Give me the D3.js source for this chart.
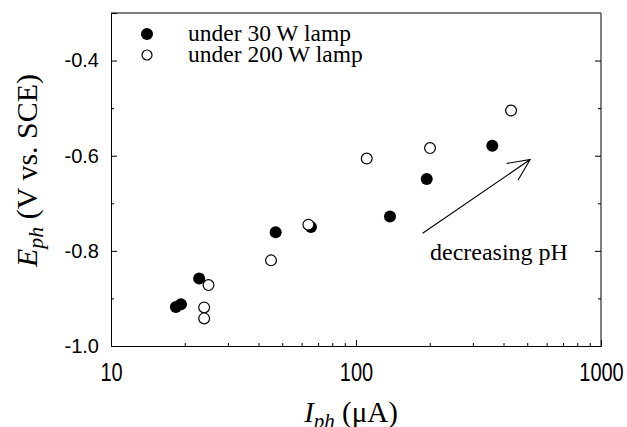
<!DOCTYPE html>
<html>
<head>
<meta charset="utf-8">
<script src="https://cdn.jsdelivr.net/npm/d3@7"></script>
<style>
  body { margin: 0; background: #fff; }
  svg { display: block; }
  .tick text { font-family: "Liberation Sans", Arial, sans-serif; fill: #000; }
  .serif { font-family: "Liberation Serif", "Times New Roman", serif; fill: #000; }
</style>
</head>
<body>
<div id="chart"></div>
<script>
// photocurrent (uA) vs photopotential (V vs. SCE)
const lamp30I = [18.4, 19.3, 22.9, 47.0, 65.5, 137.6, 194.4, 360];
const lamp30E = [-0.918, -0.912, -0.858, -0.761, -0.750, -0.728, -0.649, -0.579];
const lamp200I = [25.0, 24.0, 24.0, 45.0, 63.9, 110.6, 200.5, 429.5];
const lamp200E = [-0.872, -0.919, -0.942, -0.820, -0.745, -0.606, -0.584, -0.505];

const seriesNames = ['under 30 W lamp', 'under 200 W lamp'];
const yMajor = [-1.0, -0.8, -0.6, -0.4];
const yMinor = [-0.9, -0.7, -0.5];
const xMajor = [10, 100, 1000];
const xMinor = [20, 30, 40, 50, 60, 70, 80, 90, 200, 300, 400, 500, 600, 700, 800, 900];

// arrow "decreasing pH", in data units
const arrowFrom = [187, -0.763];
const arrowTo = [514, -0.608];

const W = 627, H = 427;
const margin = { top: 13, right: 26, bottom: 81, left: 111 };

const svg = d3.select('#chart').append('svg')
    .attr('width', W)
    .attr('height', H);

const x = d3.scaleLog().domain([10, 1000]).range([margin.left, W - margin.right]);
const y = d3.scaleLinear().domain([-1.0, -0.3]).range([H - margin.bottom, margin.top]);

// frame
svg.append('line')
    .attr('x1', x(10)).attr('x2', x(1000)).attr('y1', y(-0.3)).attr('y2', y(-0.3))
    .attr('stroke', '#555').attr('stroke-width', 1.5);
svg.append('line')
    .attr('x1', x(1000)).attr('x2', x(1000)).attr('y1', y(-0.3)).attr('y2', y(-1.0))
    .attr('stroke', '#555').attr('stroke-width', 1.5);

// left axis
svg.append('g')
    .attr('transform', `translate(${margin.left},0)`)
    .call(d3.axisLeft(y).tickValues(yMajor).tickSize(-6).tickPadding(12)
        .tickFormat(d3.format('.1f')))
    .call(g => g.select('.domain').attr('stroke', '#000'))
    .call(g => g.selectAll('text').style('font-size', '20px').text(d => d3.format('.1f')(d).replace('−', '-')));
svg.append('g')
    .attr('transform', `translate(${margin.left},0)`)
    .call(d3.axisLeft(y).tickValues(yMinor).tickSize(-3).tickFormat(''))
    .call(g => g.select('.domain').remove());

// right axis ticks
svg.append('g')
    .attr('transform', `translate(${W - margin.right},0)`)
    .call(d3.axisRight(y).tickValues(yMajor).tickSize(-6).tickFormat(''))
    .call(g => g.select('.domain').remove());
svg.append('g')
    .attr('transform', `translate(${W - margin.right},0)`)
    .call(d3.axisRight(y).tickValues(yMinor).tickSize(-3).tickFormat(''))
    .call(g => g.select('.domain').remove());

// bottom axis
svg.append('g')
    .attr('transform', `translate(0,${H - margin.bottom})`)
    .call(d3.axisBottom(x).tickValues(xMajor).tickSize(-6).tickPadding(13)
        .tickFormat(d3.format('d')))
    .call(g => g.select('.domain').attr('stroke', '#000'))
    .call(g => g.selectAll('text').style('font-size', '20px')
        .attr('transform', 'scale(1,1.3)'));
svg.append('g')
    .attr('transform', `translate(0,${H - margin.bottom})`)
    .call(d3.axisBottom(x).tickValues(xMinor).tickSize(-3).tickFormat(''))
    .call(g => g.select('.domain').remove());

// points: filled first, open on top
svg.append('g')
    .selectAll('circle')
    .data(d3.zip(lamp30I, lamp30E))
    .join('circle')
    .attr('cx', d => x(d[0]))
    .attr('cy', d => y(d[1]))
    .attr('r', 6)
    .attr('fill', '#000');

svg.append('g')
    .selectAll('circle')
    .data(d3.zip(lamp200I, lamp200E))
    .join('circle')
    .attr('cx', d => x(d[0]))
    .attr('cy', d => y(d[1]))
    .attr('r', 5.4)
    .attr('fill', '#fff')
    .attr('stroke', '#000')
    .attr('stroke-width', 1.2);

// legend
const legend = svg.append('g');
seriesNames.forEach((name, i) => {
    const ly = 34 + i * 21;
    legend.append('circle')
        .attr('cx', 147).attr('cy', ly)
        .attr('r', i === 0 ? 6 : 5)
        .attr('fill', i === 0 ? '#000' : '#fff')
        .attr('stroke', '#000').attr('stroke-width', i === 0 ? 0 : 1.2);
    legend.append('text')
        .attr('class', 'serif')
        .attr('x', 188).attr('y', ly + 7)
        .style('font-size', '23.5px')
        .text(name);
});

// arrow annotation
const ax0 = x(arrowFrom[0]), ay0 = y(arrowFrom[1]);
const ax1 = x(arrowTo[0]), ay1 = y(arrowTo[1]);
const ang = Math.atan2(ay0 - ay1, ax0 - ax1);
const headLen = 24, spread = 25 * Math.PI / 180;
svg.append('path')
    .attr('d', `M${ax0},${ay0}L${ax1},${ay1}`
        + `M${ax1 + headLen * Math.cos(ang - spread)},${ay1 + headLen * Math.sin(ang - spread)}`
        + `L${ax1},${ay1}`
        + `L${ax1 + headLen * Math.cos(ang + spread)},${ay1 + headLen * Math.sin(ang + spread)}`)
    .attr('fill', 'none')
    .attr('stroke', '#000')
    .attr('stroke-width', 1.1);

svg.append('text')
    .attr('class', 'serif')
    .attr('x', 430).attr('y', 260)
    .style('font-size', '24px')
    .text('decreasing pH');

// axis titles
const xt = svg.append('text')
    .attr('class', 'serif')
    .attr('x', (margin.left + W - margin.right) / 2 - 5)
    .attr('y', 422)
    .attr('text-anchor', 'middle')
    .style('font-size', '29px');
xt.append('tspan').style('font-style', 'italic').text('I');
xt.append('tspan').style('font-style', 'italic').style('font-size', '21px').attr('dy', 6).text('ph');
xt.append('tspan').attr('dy', -6).text(' (\u03bcA)');

const yt = svg.append('text')
    .attr('class', 'serif')
    .attr('transform', `translate(37,${(margin.top + H - margin.bottom) / 2 - 9}) rotate(-90)`)
    .attr('text-anchor', 'middle')
    .style('font-size', '30px');
yt.append('tspan').style('font-style', 'italic').text('E');
yt.append('tspan').style('font-style', 'italic').style('font-size', '22px').attr('dy', 6).text('ph');
yt.append('tspan').attr('dy', -6).text(' (V vs. SCE)');
</script>
</body>
</html>
